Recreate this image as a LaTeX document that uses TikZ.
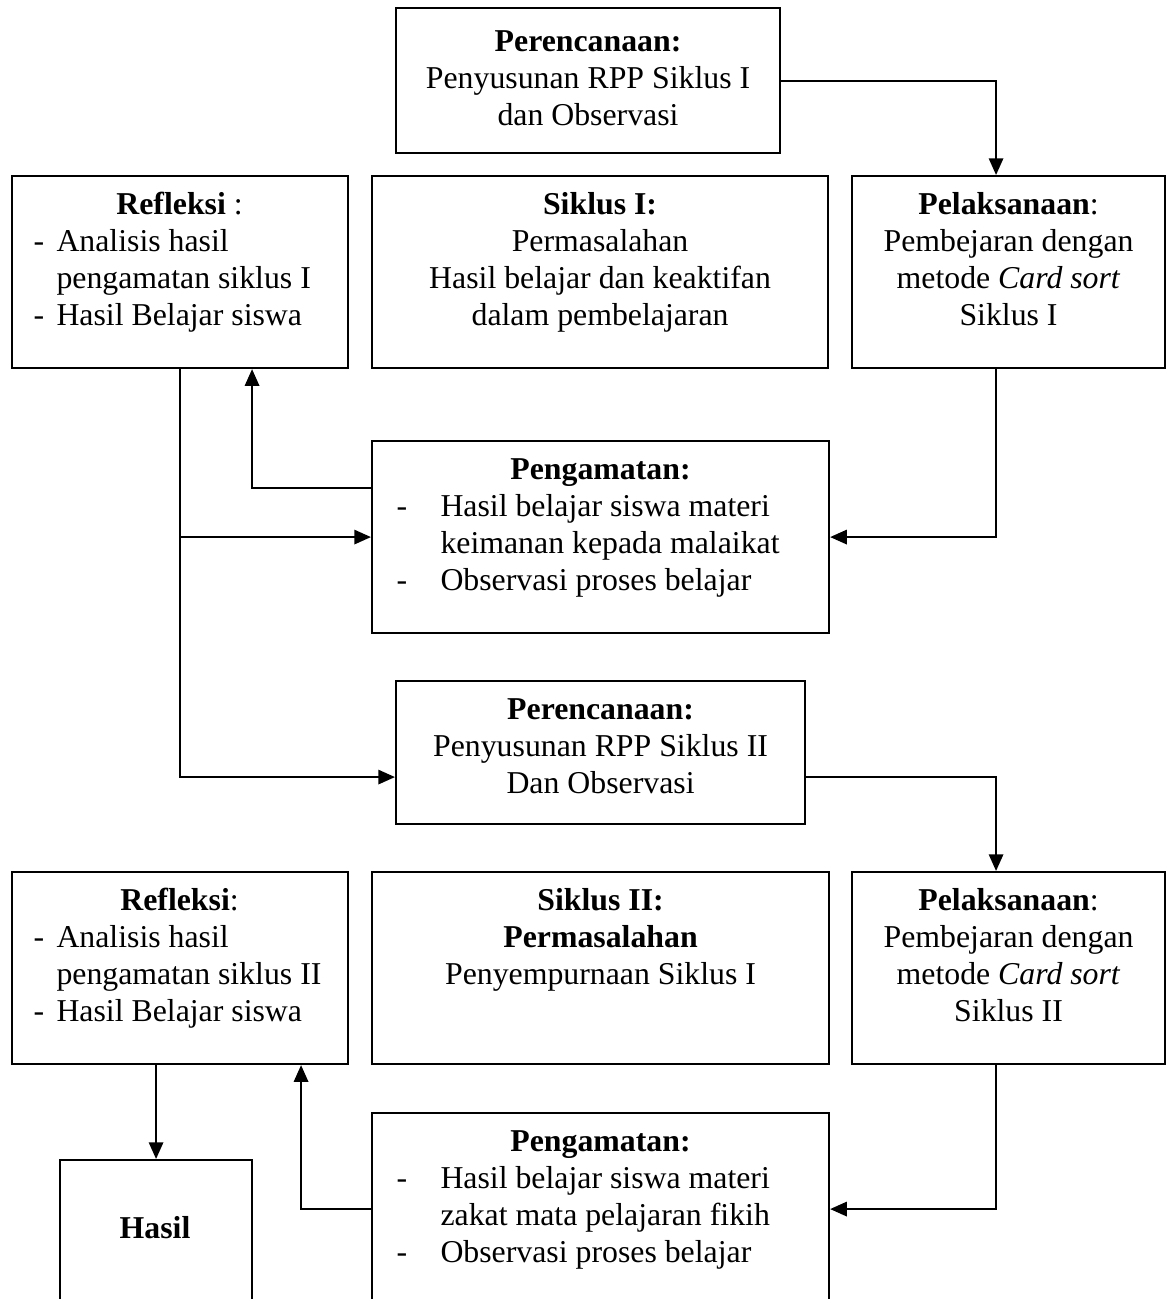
\documentclass[tikz,border=0pt]{standalone}
\usepackage{fontspec}
\setmainfont{Liberation Serif}
\usetikzlibrary{arrows.meta,calc}
\newdimen\pxu \pxu=0.37736pt
\begin{document}
\begin{tikzpicture}[x=0.37736pt,y=-0.37736pt,
  bx/.style 2 args={draw, line width=0.8pt, inner sep=0pt, anchor=north west,
     minimum width=#1*\pxu, minimum height=#2*\pxu},
  txt/.style={inner sep=0pt, font=\fontsize{12}{14}\selectfont},
  arr/.style={line width=0.8pt, -{Triangle[length=6.3pt,width=5.4pt]}}]
\useasboundingbox (0,0) rectangle (1166,1299);
\clip (0,0) rectangle (1166,1299);

% boxes
\node[bx={384}{145}] (p1) at (395,7) {};
\node[bx={336}{192}] (refl1) at (11,175) {};
\node[bx={456}{192}] (sik1) at (371,175) {};
\node[bx={313}{192}] (pel1) at (851,175) {};
\node[bx={457}{192}] (peng1) at (371,440) {};
\node[bx={409}{143}] (p2) at (395,680) {};
\node[bx={336}{192}] (refl2) at (11,871) {};
\node[bx={457}{192}] (sik2) at (371,871) {};
\node[bx={313}{192}] (pel2) at (851,871) {};
\node[bx={457}{192}] (peng2) at (371,1112) {};
\node[bx={192}{170}] (hasil) at (59,1159) {};

% texts
\node[txt, anchor=north, align=center] (p1t) at ($(p1.north)+(0,18)$)
  {\strut\textbf{Perencanaan:}\\Penyusunan RPP Siklus I\\dan Observasi};
\node[txt, anchor=north west, align=left] (refl1t) at (33,188)
  {\makebox[292\pxu][c]{\strut\textbf{Refleksi} :}\\
   \makebox[23\pxu][l]{-}Analisis hasil\\
   \hspace*{23\pxu}pengamatan siklus I\\
   \makebox[23\pxu][l]{-}Hasil Belajar siswa};
\node[txt, anchor=north, align=center] (sik1t) at ($(sik1.north)+(0,13)$)
  {\strut\textbf{Siklus I:}\\Permasalahan\\Hasil belajar dan keaktifan\\dalam pembelajaran};
\node[txt, anchor=north, align=center] (pel1t) at ($(pel1.north)+(0,13)$)
  {\strut\textbf{Pelaksanaan}:\\Pembejaran dengan\\metode \textit{Card sort}\\Siklus I};
\node[txt, anchor=north west, align=left] (peng1t) at (396,453)
  {\makebox[408\pxu][c]{\strut\textbf{Pengamatan:}}\\
   \makebox[44\pxu][l]{-}Hasil belajar siswa materi\\
   \hspace*{44\pxu}keimanan kepada malaikat\\
   \makebox[44\pxu][l]{-}Observasi proses belajar};
\node[txt, anchor=north, align=center] (p2t) at ($(p2.north)+(0,13)$)
  {\strut\textbf{Perencanaan:}\\Penyusunan RPP Siklus II\\Dan Observasi};
\node[txt, anchor=north west, align=left] (refl2t) at (33,884)
  {\makebox[292\pxu][c]{\strut\textbf{Refleksi}:}\\
   \makebox[23\pxu][l]{-}Analisis hasil\\
   \hspace*{23\pxu}pengamatan siklus II\\
   \makebox[23\pxu][l]{-}Hasil Belajar siswa};
\node[txt, anchor=north, align=center] (sik2t) at ($(sik2.north)+(0,13)$)
  {\strut\textbf{Siklus II:}\\\textbf{Permasalahan}\\Penyempurnaan Siklus I};
\node[txt, anchor=north, align=center] (pel2t) at ($(pel2.north)+(0,13)$)
  {\strut\textbf{Pelaksanaan}:\\Pembejaran dengan\\metode \textit{Card sort}\\Siklus II};
\node[txt, anchor=north west, align=left] (peng2t) at (396,1125)
  {\makebox[408\pxu][c]{\strut\textbf{Pengamatan:}}\\
   \makebox[44\pxu][l]{-}Hasil belajar siswa materi\\
   \hspace*{44\pxu}zakat mata pelajaran fikih\\
   \makebox[44\pxu][l]{-}Observasi proses belajar};
\node[txt, anchor=base] (hasilt) at (155,1238) {\textbf{Hasil}};

% connectors
\draw[arr] (p1.east) -| ($(pel1.north)+(-12.5,0)$);
\draw[arr] ($(pel1.south)+(-12.5,0)$) |- (peng1.east);
\draw[arr] ($(peng1.west)+(0,-49)$) -| ($(refl1.south)+(72,0)$);
\draw[arr] (refl1.south) |- ($(p2.west)+(0,24.5)$);
\coordinate (j1) at (refl1.south |- peng1.west);
\draw[arr] (j1) -- (peng1.west);
\draw[arr] ($(p2.east)+(0,24.5)$) -| ($(pel2.north)+(-12.5,0)$);
\draw[arr] ($(pel2.south)+(-12.5,0)$) |- (peng2.east);
\draw[arr] (peng2.west) -| ($(refl2.south)+(121,0)$);
\draw[arr] ($(refl2.south)+(-24,0)$) -- (hasil.north);
\end{tikzpicture}
\end{document}
